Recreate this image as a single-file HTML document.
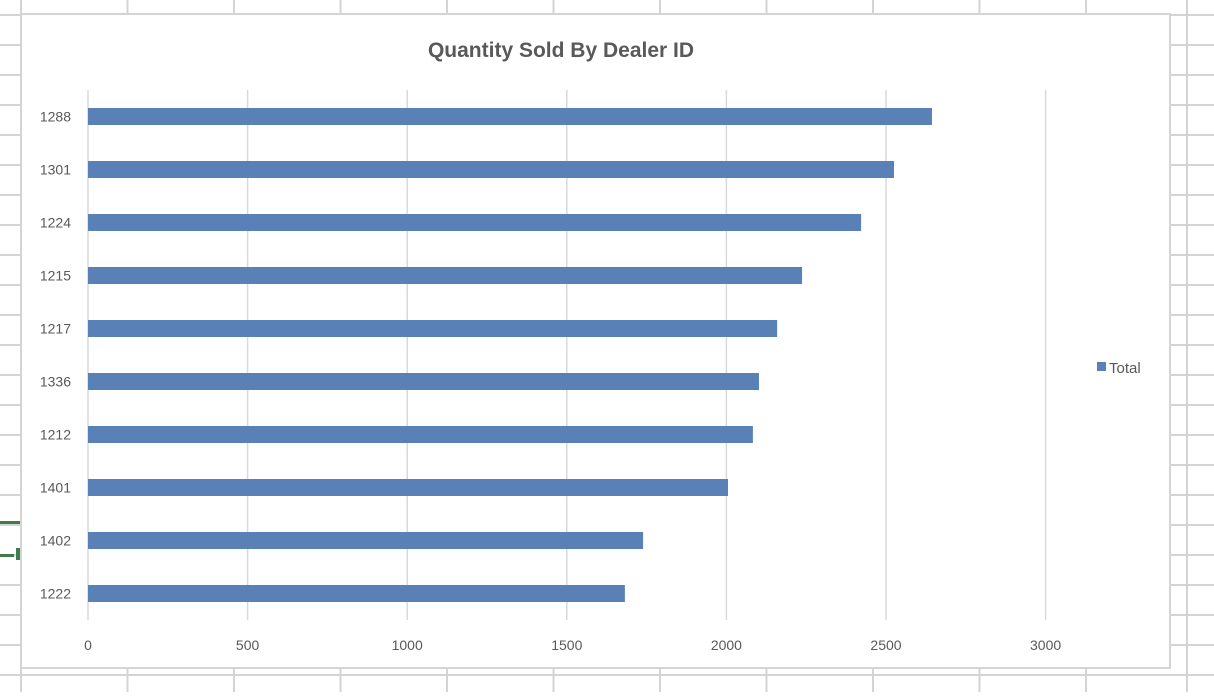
<!DOCTYPE html>
<html><head><meta charset="utf-8"><style>
html,body{margin:0;padding:0;background:#fff;}
body{width:1214px;height:692px;overflow:hidden;position:relative;font-family:"Liberation Sans",sans-serif;}
</style></head><body>
<svg width="1214" height="692" xmlns="http://www.w3.org/2000/svg">
<g id="cells"></g>
<rect x="21" y="14" width="1149" height="654" fill="#fff" stroke="#d4d4d4" stroke-width="2"/>
<rect x="0" y="521" width="20" height="3" fill="#3f7b4f"/>
<rect x="0" y="554" width="14" height="3" fill="#3f7b4f"/>
<rect x="16" y="548" width="4" height="12" fill="#3f7b4f"/>
<text x="561" y="57" text-anchor="middle" font-size="21" font-weight="bold" fill="#595959">Quantity Sold By Dealer ID</text>
<g id="plot"></g>
<rect x="1097" y="362" width="9" height="9" fill="#5a80b8"/>
<text x="1109" y="373" font-size="15" fill="#595959">Total</text>
</svg>
<script>
const categories = ["1288","1301","1224","1215","1217","1336","1212","1401","1402","1222"];
const values = [2644,2525,2422,2237,2159,2102,2083,2005,1739,1682];
const ticks = [0,500,1000,1500,2000,2500,3000];
const NS="http://www.w3.org/2000/svg";
function mk(t,a,p){const e=document.createElementNS(NS,t);for(const k in a)e.setAttribute(k,a[k]);p.appendChild(e);return e;}
const cells=document.getElementById('cells');
for(let x=21;x<1180;x+=106.5){const l=mk('line',{x1:x,x2:x,y1:0,y2:692,stroke:'#d4d4d4','stroke-width':2},cells);

}
mk('line',{x1:1187,x2:1187,y1:0,y2:692,stroke:'#d4d4d4','stroke-width':2},cells);
for(let y=15;y<692;y+=30){const l=mk('line',{x1:0,x2:1214,y1:y,y2:y,stroke:'#d4d4d4','stroke-width':2},cells);

}
const plot=document.getElementById('plot');
const x0=88,pxPer=319.2/1000;
const xs=v=>x0+v*pxPer;
const yTop=90,yBot=620,step=(yBot-yTop)/categories.length;
const yc=i=>yTop+step*(i+0.5);
ticks.forEach(t=>{
const g=mk('line',{x1:xs(t),x2:xs(t),y1:yTop,y2:yBot,stroke:'#d9d9d9','stroke-width':1.5},plot);


const tx=mk('text',{x:xs(t),y:650,'text-anchor':'middle','font-size':14,fill:'#595959'},plot);
tx.textContent=t;


});
categories.forEach((c,i)=>{
const b=mk('rect',{x:x0,y:yc(i)-8.5,width:xs(values[i])-x0,height:17,fill:'#5a80b8'},plot);


const tx=mk('text',{x:71,y:yc(i)+5,'text-anchor':'end','font-size':14,fill:'#595959'},plot);
tx.textContent=c;


});
</script>
</body></html>
